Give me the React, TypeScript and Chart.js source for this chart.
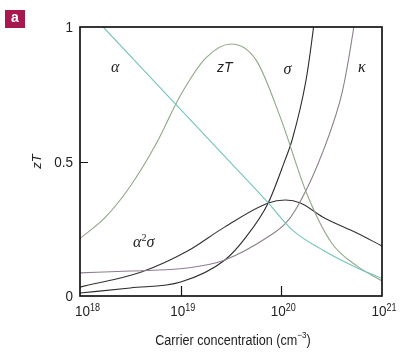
import React, { useEffect, useRef } from "react";
import { Chart, registerables } from "chart.js";

Chart.register(...registerables);

// Carrier concentration (cm^-3) and values for each curve
const alphaN = [1.0e18, 1.7e18, 8.71e18, 2.95e19, 7.41e19, 1.29e20, 2.57e20, 5.62e20, 1.0e21];
const alphaV = [1.09, 1.0, 0.717, 0.506, 0.346, 0.245, 0.171, 0.105, 0.065];

const zTN = [1.0e18, 1.78e18, 3.16e18, 5.62e18, 1.0e19, 1.78e19, 3.16e19, 5.62e19, 1.0e20, 1.78e20, 3.16e20, 5.62e20, 1.0e21];
const zTV = [0.214, 0.292, 0.408, 0.561, 0.747, 0.885, 0.937, 0.877, 0.654, 0.383, 0.197, 0.112, 0.056];

const sigmaN = [1.0e18, 3.16e18, 1.0e19, 2.75e19, 4.47e19, 7.41e19, 1.09e20, 1.28e20, 1.76e20, 2.09e20, 2.4e20];
const sigmaV = [0.011, 0.03, 0.052, 0.134, 0.22, 0.346, 0.506, 0.58, 0.803, 1.0, 1.2];

const kappaN = [1.0e18, 3.16e18, 1.17e19, 2.75e19, 7.41e19, 1.1e20, 1.38e20, 2.29e20, 3.8e20, 4.27e20, 5.25e20, 6.0e20];
const kappaV = [0.086, 0.093, 0.104, 0.134, 0.22, 0.27, 0.32, 0.487, 0.721, 0.803, 1.0, 1.15];

const pfN = [1.0e18, 4.07e18, 1.17e19, 2.75e19, 7.41e19, 1.1e20, 1.55e20, 2.57e20, 5.62e20, 1.0e21];
const pfV = [0.033, 0.089, 0.167, 0.257, 0.346, 0.357, 0.346, 0.294, 0.234, 0.186];

const xTickValues = [1e18, 1e19, 1e20, 1e21];
const xTickExponents = ["18", "19", "20", "21"];
const xInnerTicks = [1e19, 1e20];
const yTickValues = [0, 0.5, 1];
const yTickLabels = ["0", "0.5", "1"];

const curveLabelText = ["α", "zT", "σ", "κ"];
const curveLabelN = [2.24e18, 2.75e19, 1.15e20, 6.3e20];
const curveLabelV = [0.848, 0.848, 0.84, 0.848];

const COLORS = {
  alpha: "#74c4b9",
  zT: "#8fa887",
  sigma: "#2b2b2b",
  kappa: "#8d7f8e",
  pf: "#333333",
};

const zip = (xs: number[], ys: number[]) => xs.map((x, i) => ({ x, y: ys[i] }));

const SANS = '"Liberation Sans", Arial, sans-serif';
const SQ = 0.9; // horizontal condensing of axis text

function condensedText(ctx: CanvasRenderingContext2D, text: string, x: number, y: number) {
  ctx.save();
  ctx.translate(x, y);
  ctx.scale(SQ, 1);
  ctx.fillText(text, 0, 0);
  ctx.restore();
}

const decorPlugin = {
  id: "decor",
  afterDraw(chart: any) {
    const { ctx, chartArea } = chart;
    const xs = chart.scales.x;
    const ys = chart.scales.y;
    const { left, right, top, bottom } = chartArea;
    ctx.save();

    // frame
    ctx.strokeStyle = "#151515";
    ctx.lineWidth = 1.7;
    ctx.strokeRect(left, top, right - left, bottom - top);

    // inner ticks
    ctx.lineWidth = 1.2;
    ctx.beginPath();
    xInnerTicks.forEach((v) => {
      const px = Math.round(xs.getPixelForValue(v)) + 0.5;
      ctx.moveTo(px, bottom);
      ctx.lineTo(px, bottom - 10);
    });
    const py5 = Math.round(ys.getPixelForValue(0.5)) + 0.5;
    ctx.moveTo(left, py5);
    ctx.lineTo(left + 8, py5);
    ctx.stroke();

    // x tick labels: 10^n
    ctx.fillStyle = "#222";
    ctx.textBaseline = "middle";
    ctx.textAlign = "left";
    xTickValues.forEach((v, i) => {
      const px = xs.getPixelForValue(v);
      ctx.font = `15px ${SANS}`;
      const wBase = ctx.measureText("10").width * SQ;
      ctx.font = `10px ${SANS}`;
      const wExp = ctx.measureText(xTickExponents[i]).width * SQ;
      const total = wBase + wExp;
      let x0 = px + 2 - total / 2;
      if (i === 0) x0 = px - 5;
      ctx.font = `15px ${SANS}`;
      condensedText(ctx, "10", x0, 312);
      ctx.font = `10px ${SANS}`;
      condensedText(ctx, xTickExponents[i], x0 + wBase, 308);
    });

    // y tick labels
    ctx.font = `15px ${SANS}`;
    ctx.textAlign = "right";
    yTickValues.forEach((v, i) => {
      const py = ys.getPixelForValue(v);
      condensedText(ctx, yTickLabels[i], left - 7, py + 1);
    });

    // x axis title
    const cx = (left + right) / 2 + 2;
    const t1 = "Carrier concentration (cm";
    const t2 = "−3";
    const t3 = ")";
    ctx.font = `14px ${SANS}`;
    const w1 = ctx.measureText(t1).width * SQ;
    const w3 = ctx.measureText(t3).width * SQ;
    ctx.font = `9px ${SANS}`;
    const w2 = ctx.measureText(t2).width * SQ;
    const tot = w1 + w2 + w3;
    const tx = cx - tot / 2;
    ctx.textAlign = "left";
    ctx.font = `14px ${SANS}`;
    condensedText(ctx, t1, tx, 341);
    ctx.font = `9px ${SANS}`;
    condensedText(ctx, t2, tx + w1, 336);
    ctx.font = `14px ${SANS}`;
    condensedText(ctx, t3, tx + w1 + w2, 341);

    // y axis title
    ctx.save();
    ctx.translate(37, (top + bottom) / 2);
    ctx.rotate(-Math.PI / 2);
    ctx.textAlign = "center";
    ctx.font = `italic 13px ${SANS}`;
    ctx.fillText("zT", 0, 0);
    ctx.restore();

    // curve labels
    ctx.textAlign = "center";
    curveLabelText.forEach((t, i) => {
      const px = xs.getPixelForValue(curveLabelN[i]);
      const py = ys.getPixelForValue(curveLabelV[i]);
      ctx.font = t === "zT" ? `italic 14px "Liberation Sans", Arial, sans-serif` : `italic 16px "Liberation Serif", serif`;
      ctx.fillText(t, px, py);
    });
    // α²σ label
    {
      const px = xs.getPixelForValue(4.3e18);
      const py = ys.getPixelForValue(0.197);
      ctx.font = `italic 16px "Liberation Serif", serif`;
      const wa = ctx.measureText("α").width;
      const ws = ctx.measureText("σ").width;
      ctx.font = `10px "Liberation Serif", serif`;
      const w2 = ctx.measureText("2").width;
      const x0 = px - (wa + w2 + ws) / 2;
      ctx.textAlign = "left";
      ctx.font = `italic 16px "Liberation Serif", serif`;
      ctx.fillText("α", x0, py);
      ctx.font = `10px "Liberation Serif", serif`;
      ctx.fillText("2", x0 + wa, py - 5);
      ctx.font = `italic 16px "Liberation Serif", serif`;
      ctx.fillText("σ", x0 + wa + w2, py);
    }

    // badge
    ctx.fillStyle = "#a8174e";
    ctx.fillRect(5, 10, 20, 18);
    ctx.fillStyle = "#ffffff";
    ctx.font = `bold 14px "Liberation Sans", Arial, sans-serif`;
    ctx.textAlign = "center";
    ctx.textBaseline = "middle";
    ctx.fillText("a", 15, 18.5);

    ctx.restore();
  },
};

export default function App() {
  const ref = useRef<HTMLCanvasElement | null>(null);
  useEffect(() => {
    if (!ref.current) return;
    const mk = (data: { x: number; y: number }[], color: string) => ({
      data,
      borderColor: color,
      backgroundColor: color,
      borderWidth: 1.1,
      pointRadius: 0,
      fill: false,
      cubicInterpolationMode: "monotone" as const,
    });
    const chart = new Chart(ref.current, {
      type: "line",
      data: {
        datasets: [
          mk(zip(alphaN, alphaV), COLORS.alpha),
          mk(zip(zTN, zTV), COLORS.zT),
          mk(zip(kappaN, kappaV), COLORS.kappa),
          mk(zip(sigmaN, sigmaV), COLORS.sigma),
          mk(zip(pfN, pfV), COLORS.pf),
        ],
      },
      options: {
        responsive: false,
        animation: false,
        layout: { padding: { left: 80, right: 26, top: 27, bottom: 61 } },
        plugins: { legend: { display: false }, tooltip: { enabled: false } },
        scales: {
          x: { type: "logarithmic", min: 1e18, max: 1e21, display: false },
          y: { type: "linear", min: 0, max: 1, display: false },
        },
      },
      plugins: [decorPlugin],
    });
    return () => chart.destroy();
  }, []);
  return (
    <div style={{ position: "absolute", left: 0, top: 0, width: 408, height: 357, background: "#fff" }}>
      <canvas ref={ref} width={408} height={357} style={{ display: "block" }} />
    </div>
  );
}
